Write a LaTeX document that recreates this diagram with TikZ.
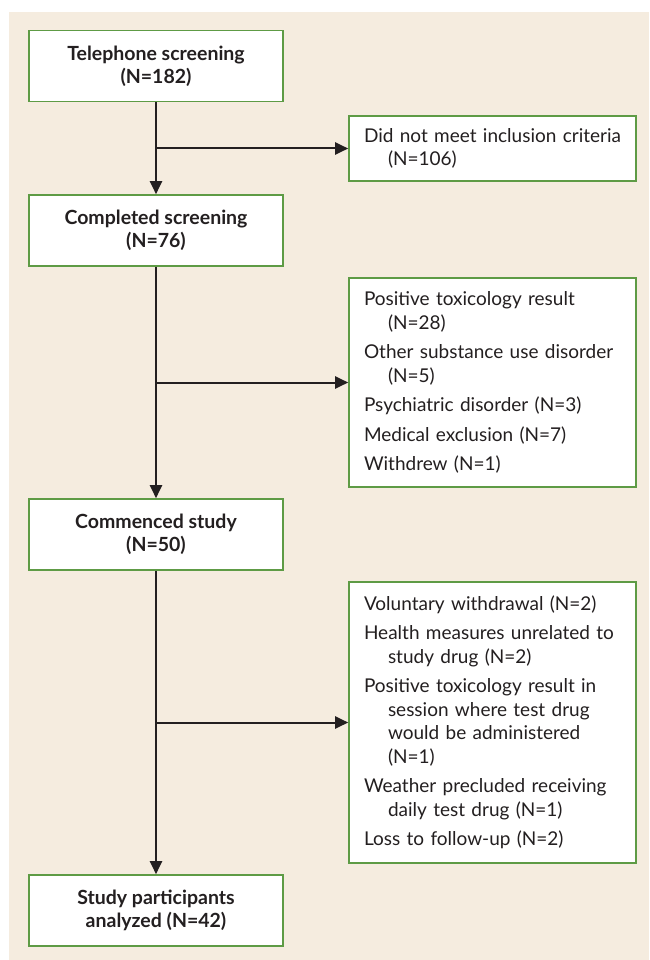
\documentclass[tikz,border=0pt]{standalone}
\usepackage{fontspec}
\setmainfont{Lato}
\usetikzlibrary{arrows.meta}

\begin{document}
\begin{tikzpicture}[x=1pt,y=-1pt,
  mainbox/.style={draw=boxgreen,line width=1.6pt,fill=white,minimum width=254,minimum height=71,align=center,text=inkgray,font=\bfseries\fontsize{19.5}{23}\selectfont},
  sidebox/.style={draw=boxgreen,line width=1.6pt,fill=white,minimum width=287,text width=257,align=left,text=inkgray,font=\fontsize{19}{23.5}\selectfont},
  flow/.style={draw=inkgray,line width=2pt,-{Triangle[length=13pt,width=12pt]}}]
\definecolor{paper}{HTML}{F5ECDF}
\definecolor{boxgreen}{HTML}{5E9B45}
\definecolor{inkgray}{HTML}{231F20}
\useasboundingbox (0,0) rectangle (649,960);
\fill[paper] (9,12) rectangle (649,960);
% main column
  \foreach \nm/\ypos/\txt in {tel/66/{Telephone screening\\(N=182)},
    screened/230.5/{Completed screening\\(N=76)},
    started/534.5/{Commenced study\\(N=50)},
    analyzed/910.5/{Study participants\\analyzed (N=42)}}
  {  \node [mainbox] (\nm) at (156,\ypos) {\txt};}
% exclusions
\node [sidebox,minimum height=65] (notmet) at (492.5,148.5)
  {Did not meet inclusion criteria\\
   \hspace*{24pt}(N=106)};
\node [sidebox,minimum height=209] (excluded) at (492.5,382.5)
  {Positive toxicology result\\
   \hspace*{24pt}(N=28)\\[6pt]
   Other substance use disorder\\
   \hspace*{24pt}(N=5)\\[6pt]
   Psychiatric disorder (N=3)\\[6pt]
   Medical exclusion (N=7)\\[6pt]
   Withdrew (N=1)};
\node [sidebox,minimum height=281] (dropped) at (492.5,722.5)
  {Voluntary withdrawal (N=2)\\[6pt]
   Health measures unrelated to\\
   \hspace*{24pt}study drug (N=2)\\[6pt]
   Positive toxicology result in\\
   \hspace*{24pt}session where test drug\\
   \hspace*{24pt}would be administered\\
   \hspace*{24pt}(N=1)\\[6pt]
   Weather precluded receiving\\
   \hspace*{24pt}daily test drug (N=1)\\[6pt]
   Loss to follow-up (N=2)};
% arrows
  \foreach \a/\b in {tel/screened,screened/started,started/analyzed}
  {  \draw [flow] (\a) -- (\b);}
  \foreach \a/\b in {tel/notmet,screened/excluded,started/dropped}
  {  \draw [flow] (\a.south |- \b.west) -- (\b.west);}
\end{tikzpicture}
\end{document}
